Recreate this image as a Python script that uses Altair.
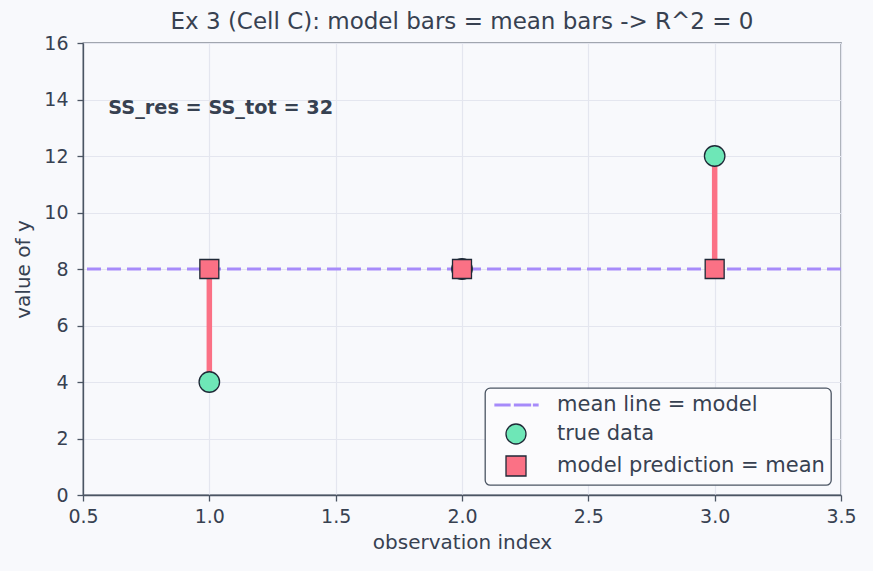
import altair as alt
import pandas as pd

# observations and the mean-only model
obs_index = [1, 2, 3]
true_values = [4, 8, 12]
mean_value = 8
predictions = [mean_value] * len(obs_index)

series_names = ["mean line = model", "true data", "model prediction = mean"]

FONT = "DejaVu Sans"
TEXT = "#374151"
FRAME = "#4b5563"
PURPLE = "#a78bfa"
GREEN = "#6ee7b7"
ROSE = "#fb7185"
EDGE = "#1f2937"
BG = "#f8f9fc"

# legend glyph for the dashed mean line: three short filled dashes
dash_glyph = ("M-2.1,-0.09H-0.6V0.09H-2.1Z "
              "M-0.15,-0.09H1.45V0.09H-0.15Z "
              "M1.75,-0.09H2.2V0.09H1.75Z")

obs = pd.DataFrame({
    "x": obs_index,
    "y": true_values,
    "pred": predictions,
    "true_series": series_names[1],
    "pred_series": series_names[2],
})
mean_df = pd.DataFrame({"y": [mean_value], "series": [series_names[0]]})
note_df = pd.DataFrame({"x": [0.6], "y": [13.7], "label": ["SS_res = SS_tot = 32"]})

x_scale = alt.Scale(domain=[0.5, 3.5], nice=False, zero=False)
y_scale = alt.Scale(domain=[0, 16], nice=False)

fill_scale = alt.Scale(domain=series_names, range=[PURPLE, GREEN, ROSE])
stroke_scale = alt.Scale(domain=series_names, range=[PURPLE, EDGE, EDGE])
shape_scale = alt.Scale(domain=series_names, range=[dash_glyph, "circle", "square"])

x_axis = alt.Axis(title="observation index", values=[0.5, 1, 1.5, 2, 2.5, 3, 3.5],
                  format=".1f", grid=True, labelFlush=False)
y_axis = alt.Axis(title="value of y", values=list(range(0, 17, 2)), grid=True,
                  labelFlush=False)

legend = alt.Legend(title=None)

mean_line = alt.Chart(mean_df).mark_rule(strokeWidth=3, strokeDash=[14, 6]).encode(
    y=alt.Y("y:Q", scale=y_scale, axis=y_axis),
    stroke=alt.Stroke("series:N", scale=stroke_scale, legend=legend),
)

residuals = alt.Chart(obs).mark_rule(color=ROSE, strokeWidth=5.5).encode(
    x=alt.X("x:Q", scale=x_scale, axis=x_axis),
    y=alt.Y("y:Q", scale=y_scale, axis=y_axis),
    y2="pred:Q",
)

true_pts = alt.Chart(obs).mark_point(filled=True, opacity=1, size=420, strokeWidth=1.3).encode(
    x=alt.X("x:Q", scale=x_scale, axis=x_axis),
    y=alt.Y("y:Q", scale=y_scale, axis=y_axis),
    fill=alt.Fill("true_series:N", scale=fill_scale, legend=legend),
    stroke=alt.Stroke("true_series:N", scale=stroke_scale, legend=legend),
    shape=alt.Shape("true_series:N", scale=shape_scale, legend=legend),
)

pred_pts = alt.Chart(obs).mark_point(filled=True, opacity=1, size=360, strokeWidth=1.3).encode(
    x=alt.X("x:Q", scale=x_scale, axis=x_axis),
    y=alt.Y("pred:Q", scale=y_scale, axis=y_axis),
    fill=alt.Fill("pred_series:N", scale=fill_scale, legend=legend),
    stroke=alt.Stroke("pred_series:N", scale=stroke_scale, legend=legend),
    shape=alt.Shape("pred_series:N", scale=shape_scale, legend=legend),
)

note = alt.Chart(note_df).mark_text(
    align="left", baseline="middle", fontWeight="bold", fontSize=19.3, font=FONT, color=TEXT
).encode(
    x=alt.X("x:Q", scale=x_scale),
    y=alt.Y("y:Q", scale=y_scale),
    text="label:N",
)

chart = alt.layer(mean_line, residuals, true_pts, pred_pts, note).resolve_scale(
    fill="shared", stroke="shared", shape="shared"
).properties(
    width=758,
    height=452,
    autosize=alt.AutoSizeParams(type="none"),
    padding={"left": 83, "top": 43, "right": 32, "bottom": 76},
    background=BG,
    title=alt.TitleParams(
        "Ex 3 (Cell C): model bars = mean bars -> R^2 = 0",
        font=FONT, fontSize=23, fontWeight="normal", color=TEXT, offset=0,
    ),
).configure_view(
    stroke=FRAME, strokeWidth=1.3, fill=BG,
).configure_axis(
    labelFont=FONT, titleFont=FONT, labelFontSize=19, titleFontSize=20,
    labelColor=TEXT, titleColor=TEXT, titleFontWeight="normal",
    gridColor="#e4e6ef", gridWidth=1.2, domainColor=FRAME, tickColor=FRAME,
    domainWidth=1.3, tickWidth=1.3, tickSize=6,
).configure_axisX(labelPadding=6, titlePadding=6).configure_axisY(
    labelPadding=9, titlePadding=10
).configure_legend(
    orient="bottom-right", offset=10, labelFont=FONT, labelFontSize=21, labelColor=TEXT,
    fillColor="#fbfbfd", strokeColor=FRAME, strokeWidth=1.3, cornerRadius=5, padding=6,
    symbolSize=400, symbolStrokeWidth=1.3, rowPadding=6, labelOffset=30, symbolOffset=14,
    labelLimit=400, symbolOpacity=1,
)

chart.save("out.html", embed_options={"renderer": "svg", "actions": False})
